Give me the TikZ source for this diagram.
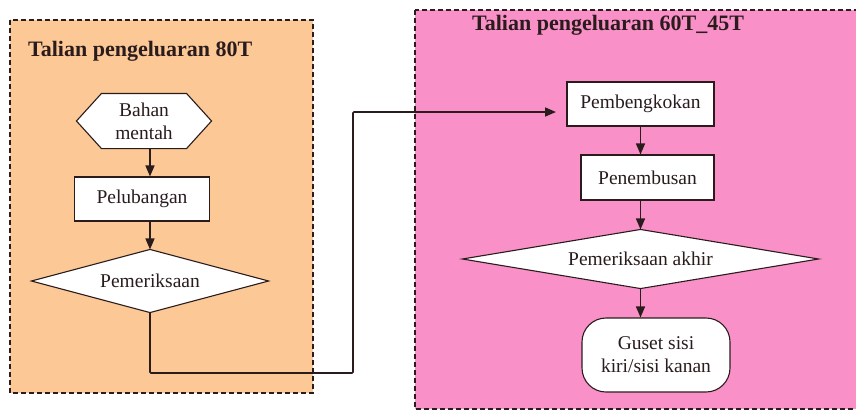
\documentclass[tikz,border=0pt]{standalone}
\usepackage{fontspec}
\setmainfont{Liberation Serif}
\usetikzlibrary{arrows.meta}
\definecolor{peach}{HTML}{FCC896}
\definecolor{pinkbg}{HTML}{FA90C8}
\definecolor{ink}{HTML}{2A1C1C}
\tikzset{
  lane/.style={draw=ink, line width=1.3pt, dash pattern=on 5pt off 3pt},
  ttl/.style={font=\fontsize{22}{24}\selectfont\bfseries, text=ink, anchor=west, inner sep=0pt},
  boxnode/.style={draw=ink, fill=white, line width=1.1pt, align=center, text=ink, inner sep=0pt, font=\fontsize{19.5}{23}\selectfont},
  txtnode/.style={boxnode, draw=none, fill=none},
  shapeline/.style={draw=ink, fill=white, line width=1.1pt},
  flow/.style={draw=ink, line width=1.6pt, -{Triangle[length=11pt,width=9pt]}},
}
\begin{document}
\begin{tikzpicture}[x=1pt,y=-1pt]
\useasboundingbox (0,0) rectangle (856,413);
% lanes
\draw[lane, fill=peach] (10,20) rectangle (313,393);
\draw[lane, fill=pinkbg] (415,10) rectangle (870,409);
\node[ttl] (t1) at (28,51) {Talian pengeluaran 80T};
\node[ttl] (t2) at (472,25) {Talian pengeluaran 60T\_45T};
% shape frames
\node[txtnode, minimum width=134pt, minimum height=54pt] (bahan) at (144,121) {};
\node[txtnode, minimum width=236pt, minimum height=62pt] (pem) at (150,281) {};
\node[txtnode, minimum width=355pt, minimum height=58pt] (pa) at (640.5,259) {};
\draw[shapeline] (bahan.west) -- ([xshift=25pt]bahan.north west) -- ([xshift=-25pt]bahan.north east) -- (bahan.east) -- ([xshift=-25pt]bahan.south east) -- ([xshift=25pt]bahan.south west) -- cycle;
\draw[shapeline] (pem.north) -- (pem.east) -- (pem.south) -- (pem.west) -- cycle;
\draw[shapeline] (pa.north) -- (pa.east) -- (pa.south) -- (pa.west) -- cycle;
\node[txtnode] (bahantxt) at (bahan) {Bahan\\mentah};
\node[txtnode] (pemtxt) at (pem) {Pemeriksaan};
\node[txtnode] (patxt) at (pa) {Pemeriksaan akhir};
% boxes
\node[boxnode, minimum width=135pt, minimum height=44pt] (pel) at (142,199) {Pelubangan};
\node[boxnode, minimum width=147pt, minimum height=44pt] (pemb) at (640.5,104) {Pembengkokan};
\node[boxnode, minimum width=133pt, minimum height=45pt] (pen) at (647.5,177.5) {Penembusan};
\node[boxnode, rounded corners=24pt, minimum width=148pt, minimum height=74pt] (gus) at (656,355) {Guset sisi\\kiri/sisi kanan};
% connectors
\draw[flow] (bahan.south -| pem.north) -- (pel.north -| pem.north);
\draw[flow] (pel.south -| pem.north) -- (pem.north);
\draw[flow] (pemb.south) -- (pemb.south |- pen.north);
\draw[flow] (pen.south -| pemb.south) -- (pa.north);
\draw[flow] (pa.south) -- (pa.south |- gus.north);
\coordinate (c1) at (150,373);
\coordinate (c2) at (353,373);
\coordinate (c3) at (353,112);
\coordinate (c4) at (556,112);
\draw[flow, rounded corners=1pt] (pem.south) -- (c1) -- (c2) -- (c3) -- (c4);
\end{tikzpicture}
\end{document}
